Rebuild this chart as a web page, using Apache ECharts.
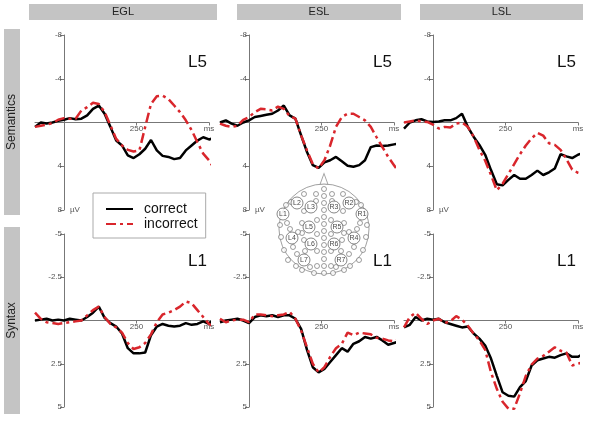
<!DOCTYPE html>
<html>
<head>
<meta charset="utf-8">
<script src="https://cdn.jsdelivr.net/npm/echarts@6.0.0/dist/echarts.min.js"></script>
<style>
  html, body { margin: 0; padding: 0; background: #fff; }
  #chart { width: 600px; height: 431px; }
</style>
</head>
<body>
<div id="chart"></div>
<script>
// time points (ms)
const times = [-100, -80, -60, -40, -20, 0, 20, 40, 60, 80, 100, 120, 140, 160, 180, 200,
  220, 240, 260, 280, 300, 320, 340, 360, 380, 400, 420, 440, 460, 480, 500, 520];

// Semantics, electrode L5 (µV, negative up)
const eglSemCorrect = [0.4, 0.0, 0.1, 0.0, -0.15, -0.25, -0.4, -0.3, -0.35, -0.65, -1.25, -1.55, -0.8, 0.4, 1.65, 2.1,
  3.0, 3.25, 2.9, 2.4, 1.6, 2.55, 3.05, 3.15, 3.35, 3.25, 2.55, 2.1, 1.65, 1.35, 1.55, 1.4];
const eglSemIncorrect = [0.4, 0.3, 0.2, 0.05, -0.25, -0.4, -0.35, -0.35, -1.1, -1.4, -1.8, -1.7, -0.95, 0.25, 1.5, 2.1,
  2.5, 2.65, 2.55, 0.4, -1.7, -2.4, -2.45, -2.15, -1.55, -0.95, -0.2, 0.7, 1.8, 2.85, 3.45, 4.35];
const eslSemCorrect = [0.0, -0.2, 0.1, 0.3, 0.0, -0.2, -0.5, -0.6, -0.7, -0.8, -1.1, -1.55, -0.65, -0.35, 1.2, 2.7,
  3.9, 4.15, 3.65, 3.45, 3.15, 3.55, 3.95, 4.05, 3.9, 3.45, 2.25, 2.1, 2.15, 2.1, 2.0, 1.9];
const eslSemIncorrect = [0.1, 0.3, 0.4, 0.3, -0.25, -0.5, -0.95, -1.25, -1.2, -1.1, -1.45, -1.25, -0.6, -0.35, 1.2, 2.55,
  3.8, 4.2, 3.45, 2.1, 0.4, -0.5, -0.8, -0.8, -0.5, -0.2, 0.4, 1.35, 2.25, 3.15, 3.9, 4.65];
const lslSemCorrect = [0.55, 0.0, -0.2, -0.3, -0.1, -0.05, -0.1, -0.2, -0.2, -0.4, -0.8, 0.4, 1.3, 2.05, 2.95, 4.35,
  5.65, 5.75, 5.25, 4.8, 5.15, 5.15, 4.8, 4.4, 4.8, 4.55, 4.2, 2.9, 3.1, 3.25, 2.95, 2.75];
const lslSemIncorrect = [0.0, -0.1, -0.2, -0.1, -0.05, 0.2, 0.55, 0.4, 0.45, 0.1, 0.0, 0.4, 1.3, 2.5, 3.5, 4.8,
  6.2, 5.6, 4.7, 3.8, 2.9, 2.1, 1.45, 0.95, 1.2, 1.9, 2.05, 2.5, 3.35, 4.3, 4.6, 4.75];

// Syntax, electrode L1
const eglSynCorrect = [0.0, -0.05, -0.1, 0.0, -0.05, 0.0, -0.1, -0.05, 0.0, -0.2, -0.45, -0.8, -0.15, 0.15, 0.35, 0.75,
  1.6, 1.9, 1.9, 1.85, 0.85, 0.35, 0.2, 0.3, 0.35, 0.3, 0.15, 0.25, 0.2, 0.05, 0.2, -0.2];
const eglSynIncorrect = [-0.45, -0.1, 0.1, 0.15, 0.2, 0.15, 0.1, 0.05, 0.0, -0.3, -0.6, -0.8, -0.2, 0.2, 0.4, 0.7,
  1.3, 1.65, 1.55, 1.3, 0.8, 0.1, -0.35, -0.45, -0.6, -0.8, -1.1, -1.0, -0.6, -0.2, 0.2, 0.4];
const eslSynCorrect = [0.1, 0.0, -0.05, -0.1, 0.0, 0.15, -0.2, -0.3, -0.25, -0.3, -0.2, -0.3, -0.3, -0.1, 0.5, 1.7,
  2.7, 3.0, 2.8, 2.4, 2.0, 1.6, 1.8, 1.35, 1.2, 0.95, 1.05, 0.95, 1.15, 1.4, 1.3, 1.2];
const eslSynIncorrect = [-0.1, 0.1, 0.0, -0.05, -0.05, 0.1, -0.35, -0.35, -0.3, -0.25, -0.3, -0.35, -0.5, -0.1, 0.6, 1.55,
  2.5, 3.0, 2.7, 2.1, 1.6, 1.35, 0.7, 0.85, 0.7, 0.75, 0.8, 1.0, 1.05, 1.15, 1.2, 1.1];
const lslSynCorrect = [0.4, 0.25, -0.2, 0.0, -0.1, -0.05, -0.1, 0.1, 0.2, 0.3, 0.4, 0.35, 0.75, 1.05, 1.45, 2.2,
  3.2, 4.15, 4.35, 4.4, 3.85, 3.5, 2.6, 2.3, 2.2, 2.1, 2.15, 2.0, 1.9, 2.1, 2.1, 1.9];
const lslSynIncorrect = [0.4, -0.2, -0.45, -0.1, 0.2, 0.0, -0.1, 0.15, 0.05, -0.25, -0.05, 0.3, 0.75, 1.15, 1.7, 3.0,
  3.95, 4.7, 5.1, 5.1, 4.2, 3.2, 2.55, 2.2, 2.05, 1.8, 1.55, 1.75, 1.85, 2.6, 2.5, 2.4];

const conditions = ['EGL', 'ESL', 'LSL'];
const rowNames = ['Semantics', 'Syntax'];
const electrodes = ['L5', 'L1'];
const seriesNames = ['correct', 'incorrect'];

// electrode map (px offsets from head centre)
const labeledSites = [
  ['L1', -41, -15], ['L2', -27, -26], ['L3', -13, -22], ['R3', 10, -22], ['R2', 25, -26], ['R1', 38, -15],
  ['L5', -15, -2], ['R5', 13, -2], ['L4', -32, 9], ['R4', 30, 9],
  ['L6', -13, 15], ['R6', 10, 15], ['L7', -20, 31], ['R7', 17, 31]
];
const smallSites = [
  [0, -40], [0, -33], [0, -26], [0, -19], [0, -12], [0, -5], [0, 2], [0, 9], [0, 16], [0, 23], [0, 30], [0, 37], [0, 44],
  [-8, -35], [8, -35], [-8, -28], [8, -28], [-7, -9], [7, -9], [-7, 5], [7, 5], [-7, 22], [7, 22], [-7, 37], [7, 37],
  [-20, -35], [19, -35], [-33, -27], [32, -27], [-20, -18], [19, -18], [-38, -24], [37, -24], [-37, -6], [36, -6],
  [-44, -4], [43, -4], [-22, -6], [20, -6], [-22, 4], [20, 4], [-34, 0], [33, 0], [-26, 3], [25, 3], [-31, 18], [30, 18],
  [-20, 11], [18, 11], [-19, 22], [17, 22], [-27, 25], [25, 25], [-14, 38], [12, 38], [-28, 37], [26, 37],
  [-43, 8], [42, 8], [-40, 21], [39, 21], [-36, 31], [35, 31], [-22, 41], [20, 41], [-10, 44], [9, 44]
];

const panelData = [
  [[eglSemCorrect, eglSemIncorrect], [eslSemCorrect, eslSemIncorrect], [lslSemCorrect, lslSemIncorrect]],
  [[eglSynCorrect, eglSynIncorrect], [eslSynCorrect, eslSynIncorrect], [lslSynCorrect, lslSynIncorrect]]
];

const colLeft = [35, 220, 404];
const gridW = 174;
const rowTop = [35, 234];
const rowHeight = [175, 173];
const yLim = [8, 5];
const yStep = [4, 2.5];
const tMin = -100, tMax = 500;
const axisColor = '#777';
const font = 'Liberation Sans, Arial, sans-serif';

const grid = [], xAxis = [], yAxis = [], series = [], title = [];

rowNames.forEach((row, r) => {
  conditions.forEach((cond, c) => {
    const i = r * 3 + c;
    grid.push({ left: colLeft[c], top: rowTop[r], width: gridW, height: rowHeight[r] });
    // axes cross at (0 ms, 0 µV): shift them into the grid with offsets
    xAxis.push({
      type: 'value', gridIndex: i, min: tMin, max: tMax, position: 'bottom',
      offset: -rowHeight[r] / 2,
      axisLine: { onZero: false, lineStyle: { color: axisColor, width: 1 } },
      axisTick: { customValues: [250, 500], length: 3, lineStyle: { color: axisColor } },
      axisLabel: {
        customValues: [250, 500], fontSize: 8, color: '#555', margin: 2, fontFamily: font,
        formatter: v => v === 500 ? 'ms' : String(v)
      },
      splitLine: { show: false }
    });
    yAxis.push({
      type: 'value', gridIndex: i, min: -yLim[r], max: yLim[r], interval: yStep[r], inverse: true,
      position: 'left', offset: gridW * tMin / (tMax - tMin),
      axisLine: { show: true, onZero: false, lineStyle: { color: axisColor, width: 1 } },
      axisTick: { show: true, length: 4, lineStyle: { color: axisColor } },
      axisLabel: {
        fontSize: 8, color: '#555', margin: 2, fontFamily: font,
        formatter: v => v === 0 ? '' : String(v)
      },
      splitLine: { show: false },
      name: r === 0 ? 'µV' : '', nameLocation: 'end', nameGap: 0,
      nameTextStyle: { fontSize: 8, color: '#555', align: 'left', verticalAlign: 'middle', padding: [0, 0, 0, 6], fontFamily: font }
    });
    const [cor, inc] = panelData[r][c];
    series.push({
      name: seriesNames[0], type: 'line', xAxisIndex: i, yAxisIndex: i,
      data: times.map((t, k) => [t, cor[k]]),
      symbol: 'none', clip: false, z: 3,
      lineStyle: { color: '#000', width: 2.5 }, itemStyle: { color: '#000' }
    });
    series.push({
      name: seriesNames[1], type: 'line', xAxisIndex: i, yAxisIndex: i,
      data: times.map((t, k) => [t, inc[k]]),
      symbol: 'none', clip: false, z: 4,
      lineStyle: { color: '#d9262c', width: 2.5, type: [10, 4, 3, 4] }, itemStyle: { color: '#d9262c' }
    });
    title.push({
      text: electrodes[r], left: colLeft[c] + 148, top: rowTop[r] + 14,
      textStyle: { fontSize: 17, fontWeight: 'normal', color: '#111', fontFamily: font }
    });
  });
});

// head map
grid.push({ left: 275, top: 170, width: 100, height: 110 });
xAxis.push({ type: 'value', gridIndex: 6, min: -49, max: 51, show: false });
yAxis.push({ type: 'value', gridIndex: 6, min: -59, max: 51, inverse: true, show: false });
series.push({
  type: 'scatter', xAxisIndex: 6, yAxisIndex: 6, silent: true, z: 5,
  data: [[0, -50]], symbol: 'triangle', symbolSize: [8, 11],
  itemStyle: { color: '#fff', borderColor: '#888', borderWidth: 1 }
});
series.push({
  type: 'scatter', xAxisIndex: 6, yAxisIndex: 6, silent: true, z: 5,
  data: [[0, 0]], symbol: 'circle', symbolSize: 90,
  itemStyle: { color: '#fff', borderColor: '#888', borderWidth: 1 }
});
series.push({
  type: 'scatter', xAxisIndex: 6, yAxisIndex: 6, silent: true, z: 6,
  data: smallSites, symbol: 'circle', symbolSize: 5,
  itemStyle: { color: '#fff', borderColor: '#666', borderWidth: 0.8 }
});
series.push({
  type: 'scatter', xAxisIndex: 6, yAxisIndex: 6, silent: true, z: 7,
  data: labeledSites.map(s => ({ name: s[0], value: [s[1], s[2]] })),
  symbol: 'circle', symbolSize: 12,
  itemStyle: { color: '#fff', borderColor: '#444', borderWidth: 0.8 },
  label: { show: true, position: 'inside', formatter: p => p.name, fontSize: 7, color: '#111', fontFamily: font }
});

// column headers and row labels
const headerX = [29, 237, 420];
const headerW = [188, 164, 163];
const graphic = [];
conditions.forEach((cond, c) => {
  graphic.push({ type: 'rect', shape: { x: headerX[c], y: 4, width: headerW[c], height: 16 }, style: { fill: '#c4c4c4' } });
  graphic.push({
    type: 'text', x: headerX[c] + headerW[c] / 2, y: 12,
    style: { text: cond, fontSize: 11, fill: '#222', align: 'center', verticalAlign: 'middle', fontFamily: font }
  });
});
const rowBarY = [29, 227];
const rowBarH = [186, 187];
rowNames.forEach((row, r) => {
  graphic.push({ type: 'rect', shape: { x: 4, y: rowBarY[r], width: 16, height: rowBarH[r] }, style: { fill: '#c4c4c4' } });
  graphic.push({
    type: 'text', x: 12, y: rowBarY[r] + rowBarH[r] / 2, rotation: Math.PI / 2,
    style: { text: row, fontSize: 12, fill: '#222', align: 'center', verticalAlign: 'middle', fontFamily: font }
  });
});

const chart = echarts.init(document.getElementById('chart'));
chart.setOption({
  animation: false,
  backgroundColor: '#fff',
  title: title,
  legend: {
    data: seriesNames, orient: 'vertical', left: 93, top: 193,
    backgroundColor: '#fff', borderColor: '#aaa', borderWidth: 1,
    padding: [9, 8, 7, 12], itemWidth: 27, itemHeight: 14, itemGap: 1,
    itemStyle: { opacity: 0 },
    textStyle: { fontSize: 14, color: '#111', fontFamily: font, padding: [0, 0, 0, 6] }
  },
  grid: grid,
  xAxis: xAxis,
  yAxis: yAxis,
  series: series,
  graphic: graphic
});
</script>
</body>
</html>
